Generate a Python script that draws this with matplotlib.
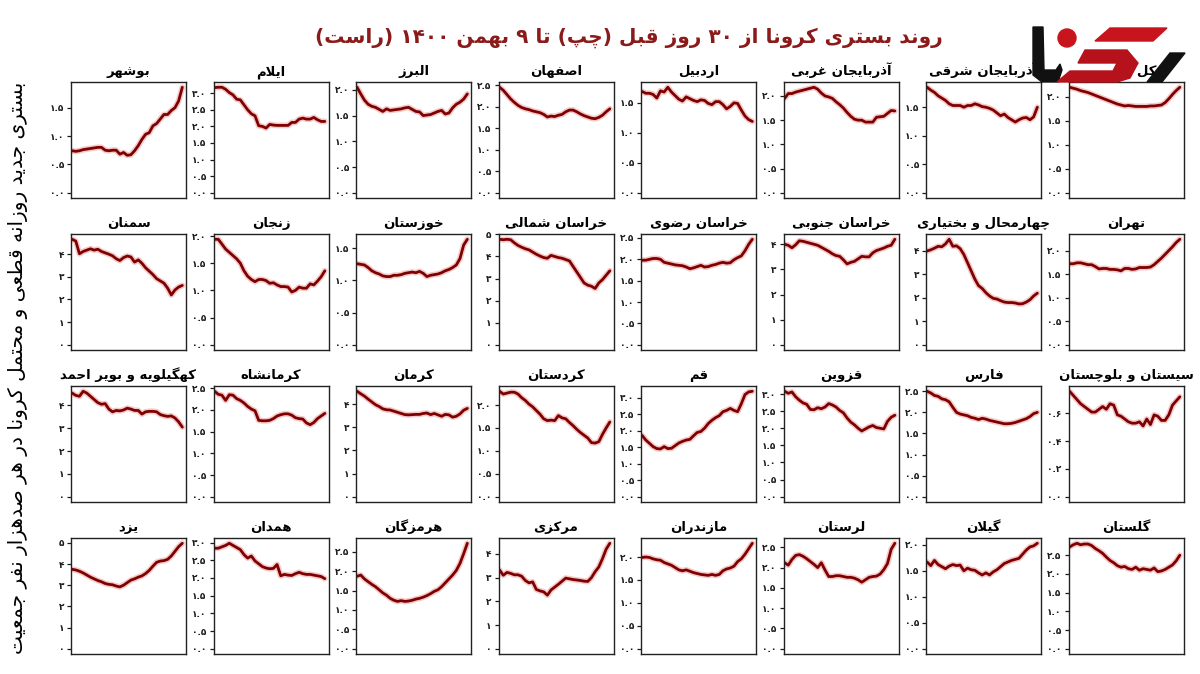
import re
import matplotlib
matplotlib.use('Agg')
import matplotlib.pyplot as plt
from matplotlib.patches import Polygon, Ellipse

plt.rcParams['font.family'] = ['DejaVu Sans']

# daily hospitalisations per 100k, 31 days (oldest -> newest)
bushehr = [0.74, 0.73, 0.74, 0.76, 0.77, 0.78, 0.79, 0.80, 0.80, 0.75, 0.74, 0.75, 0.75, 0.68, 0.71, 0.66,
           0.67, 0.74, 0.83, 0.94, 1.03, 1.06, 1.18, 1.22, 1.30, 1.38, 1.38, 1.45, 1.50, 1.62, 1.86]
ilam = [3.17, 3.18, 3.18, 3.12, 3.02, 2.95, 2.82, 2.80, 2.65, 2.50, 2.38, 2.32, 2.02, 2.00, 1.95, 2.06,
        2.04, 2.03, 2.03, 2.03, 2.03, 2.12, 2.12, 2.22, 2.25, 2.22, 2.22, 2.27, 2.20, 2.15, 2.15]
alborz = [2.05, 1.92, 1.80, 1.72, 1.68, 1.66, 1.62, 1.58, 1.63, 1.60, 1.61, 1.62, 1.63, 1.65, 1.66, 1.62,
          1.58, 1.57, 1.50, 1.51, 1.52, 1.55, 1.58, 1.60, 1.53, 1.55, 1.65, 1.72, 1.76, 1.82, 1.92]
isfahan = [2.45, 2.38, 2.28, 2.18, 2.10, 2.03, 1.98, 1.95, 1.93, 1.90, 1.88, 1.86, 1.82, 1.76, 1.78, 1.77,
           1.80, 1.82, 1.88, 1.92, 1.92, 1.88, 1.83, 1.79, 1.76, 1.73, 1.72, 1.75, 1.80, 1.88, 1.95]
ardabil = [1.69, 1.66, 1.66, 1.64, 1.58, 1.70, 1.68, 1.76, 1.68, 1.62, 1.56, 1.53, 1.60, 1.57, 1.54, 1.52,
           1.55, 1.54, 1.49, 1.47, 1.52, 1.52, 1.47, 1.40, 1.44, 1.50, 1.49, 1.38, 1.28, 1.22, 1.19]
azar_w = [1.95, 2.05, 2.05, 2.08, 2.10, 2.12, 2.14, 2.16, 2.18, 2.14, 2.06, 2.00, 1.98, 1.95, 1.88, 1.82,
          1.75, 1.66, 1.58, 1.52, 1.50, 1.50, 1.46, 1.46, 1.46, 1.56, 1.57, 1.58, 1.64, 1.70, 1.69]
azar_e = [1.85, 1.80, 1.76, 1.70, 1.66, 1.62, 1.56, 1.53, 1.53, 1.53, 1.50, 1.53, 1.53, 1.56, 1.54, 1.51,
          1.50, 1.48, 1.45, 1.40, 1.35, 1.38, 1.32, 1.28, 1.24, 1.28, 1.31, 1.32, 1.28, 1.33, 1.50]
country = [2.20, 2.18, 2.16, 2.13, 2.11, 2.09, 2.06, 2.03, 2.00, 1.97, 1.94, 1.91, 1.88, 1.85, 1.83, 1.81,
           1.82, 1.81, 1.80, 1.80, 1.80, 1.80, 1.81, 1.81, 1.82, 1.83, 1.88, 1.96, 2.05, 2.13, 2.20]

semnan = [4.66, 4.58, 4.02, 4.12, 4.18, 4.24, 4.18, 4.22, 4.12, 4.06, 4.00, 3.93, 3.80, 3.72, 3.85, 3.92,
          3.88, 3.65, 3.75, 3.60, 3.40, 3.25, 3.10, 2.92, 2.82, 2.72, 2.50, 2.20, 2.42, 2.55, 2.62]
zanjan = [1.94, 1.94, 1.85, 1.76, 1.70, 1.64, 1.58, 1.50, 1.36, 1.26, 1.20, 1.16, 1.20, 1.20, 1.18, 1.13,
          1.14, 1.10, 1.07, 1.07, 1.06, 0.97, 1.00, 1.06, 1.04, 1.04, 1.12, 1.10, 1.17, 1.25, 1.36]
khuzestan = [1.26, 1.25, 1.24, 1.20, 1.15, 1.12, 1.10, 1.07, 1.06, 1.06, 1.08, 1.08, 1.09, 1.11, 1.12, 1.13,
             1.12, 1.14, 1.11, 1.06, 1.08, 1.09, 1.10, 1.12, 1.15, 1.17, 1.20, 1.24, 1.34, 1.55, 1.64]
khorasan_n = [4.78, 4.76, 4.78, 4.76, 4.62, 4.50, 4.42, 4.35, 4.30, 4.20, 4.10, 4.02, 3.95, 3.92, 4.05, 4.00,
              3.95, 3.92, 3.86, 3.80, 3.55, 3.30, 3.05, 2.80, 2.70, 2.65, 2.55, 2.80, 2.95, 3.15, 3.35]
khorasan_r = [1.98, 1.98, 2.00, 2.02, 2.02, 2.00, 1.93, 1.91, 1.89, 1.87, 1.86, 1.85, 1.82, 1.78, 1.80, 1.83,
              1.86, 1.82, 1.83, 1.86, 1.88, 1.91, 1.93, 1.91, 1.92, 1.99, 2.04, 2.08, 2.20, 2.35, 2.47]
khorasan_s = [4.00, 3.96, 3.86, 3.98, 4.14, 4.12, 4.08, 4.04, 4.00, 3.96, 3.88, 3.80, 3.72, 3.62, 3.55, 3.52,
              3.38, 3.22, 3.28, 3.32, 3.42, 3.52, 3.50, 3.50, 3.66, 3.75, 3.80, 3.85, 3.92, 3.96, 4.20]
chaharmahal = [4.00, 4.05, 4.12, 4.20, 4.18, 4.30, 4.50, 4.20, 4.22, 4.10, 3.85, 3.50, 3.15, 2.80, 2.52, 2.40,
               2.22, 2.08, 1.98, 1.95, 1.88, 1.82, 1.80, 1.80, 1.78, 1.74, 1.75, 1.82, 1.92, 2.08, 2.20]
tehran = [1.72, 1.72, 1.74, 1.74, 1.72, 1.70, 1.70, 1.66, 1.61, 1.62, 1.62, 1.60, 1.60, 1.59, 1.57, 1.62,
          1.62, 1.60, 1.61, 1.64, 1.64, 1.64, 1.65, 1.70, 1.77, 1.84, 1.92, 2.00, 2.08, 2.17, 2.24]

kohgiluyeh = [4.54, 4.44, 4.40, 4.62, 4.54, 4.40, 4.26, 4.12, 4.05, 4.08, 3.84, 3.72, 3.78, 3.76, 3.80, 3.88,
              3.84, 3.78, 3.78, 3.62, 3.72, 3.74, 3.74, 3.72, 3.60, 3.55, 3.52, 3.54, 3.45, 3.28, 3.05]
kermanshah = [2.43, 2.36, 2.34, 2.22, 2.35, 2.34, 2.26, 2.22, 2.16, 2.08, 2.02, 1.98, 1.76, 1.75, 1.75, 1.76,
              1.80, 1.86, 1.89, 1.91, 1.91, 1.88, 1.82, 1.80, 1.79, 1.70, 1.66, 1.71, 1.80, 1.86, 1.92]
kerman = [4.56, 4.45, 4.35, 4.22, 4.10, 3.98, 3.90, 3.80, 3.76, 3.75, 3.70, 3.65, 3.60, 3.55, 3.54, 3.55,
          3.56, 3.56, 3.60, 3.62, 3.55, 3.60, 3.54, 3.48, 3.56, 3.54, 3.44, 3.48, 3.58, 3.74, 3.82]
kordestan = [2.30, 2.24, 2.26, 2.28, 2.28, 2.24, 2.16, 2.10, 2.02, 1.96, 1.88, 1.80, 1.70, 1.66, 1.67, 1.66,
             1.77, 1.72, 1.70, 1.62, 1.55, 1.47, 1.40, 1.34, 1.28, 1.18, 1.17, 1.20, 1.36, 1.50, 1.63]
qom = [1.86, 1.72, 1.62, 1.52, 1.46, 1.45, 1.52, 1.46, 1.47, 1.55, 1.63, 1.68, 1.72, 1.74, 1.85, 1.95,
       1.98, 2.08, 2.22, 2.32, 2.40, 2.46, 2.58, 2.62, 2.68, 2.62, 2.58, 2.82, 3.10, 3.18, 3.20]
qazvin = [3.08, 3.02, 3.06, 2.92, 2.82, 2.74, 2.70, 2.55, 2.54, 2.60, 2.57, 2.62, 2.72, 2.68, 2.62, 2.52,
          2.45, 2.30, 2.18, 2.10, 2.00, 1.92, 1.98, 2.04, 2.08, 2.02, 2.00, 1.98, 2.20, 2.32, 2.38]
fars = [2.50, 2.46, 2.40, 2.38, 2.32, 2.30, 2.25, 2.12, 2.00, 1.96, 1.94, 1.92, 1.88, 1.86, 1.83, 1.86,
        1.84, 1.81, 1.79, 1.77, 1.75, 1.73, 1.73, 1.74, 1.76, 1.79, 1.82, 1.85, 1.90, 1.97, 2.00]
sistan = [0.76, 0.73, 0.70, 0.67, 0.65, 0.63, 0.61, 0.61, 0.63, 0.65, 0.63, 0.67, 0.66, 0.59, 0.58, 0.56,
          0.54, 0.53, 0.53, 0.54, 0.51, 0.56, 0.52, 0.59, 0.58, 0.55, 0.55, 0.59, 0.66, 0.69, 0.72]

yazd = [3.75, 3.72, 3.66, 3.58, 3.48, 3.38, 3.30, 3.22, 3.16, 3.08, 3.04, 3.02, 2.96, 2.92, 3.00, 3.12,
        3.24, 3.30, 3.38, 3.44, 3.55, 3.70, 3.90, 4.08, 4.14, 4.16, 4.22, 4.38, 4.60, 4.82, 4.98]
hamedan = [2.84, 2.84, 2.88, 2.92, 2.98, 2.92, 2.86, 2.80, 2.66, 2.56, 2.62, 2.48, 2.40, 2.32, 2.28, 2.26,
           2.27, 2.38, 2.06, 2.10, 2.08, 2.07, 2.12, 2.16, 2.12, 2.10, 2.10, 2.08, 2.06, 2.04, 1.98]
hormozgan = [1.87, 1.90, 1.80, 1.73, 1.66, 1.60, 1.52, 1.44, 1.38, 1.30, 1.25, 1.22, 1.24, 1.22, 1.23, 1.25,
             1.28, 1.30, 1.33, 1.37, 1.42, 1.48, 1.52, 1.60, 1.70, 1.80, 1.90, 2.02, 2.20, 2.45, 2.72]
markazi = [3.32, 3.10, 3.22, 3.18, 3.12, 3.12, 3.06, 2.88, 2.78, 2.82, 2.50, 2.44, 2.40, 2.26, 2.48, 2.60,
           2.72, 2.85, 2.98, 2.95, 2.92, 2.90, 2.88, 2.85, 2.84, 3.00, 3.25, 3.45, 3.80, 4.20, 4.45]
mazandaran = [1.99, 2.00, 1.99, 1.96, 1.94, 1.93, 1.88, 1.85, 1.82, 1.77, 1.72, 1.70, 1.72, 1.69, 1.66, 1.64,
              1.62, 1.61, 1.60, 1.62, 1.60, 1.62, 1.70, 1.74, 1.76, 1.80, 1.90, 1.96, 2.06, 2.18, 2.30]
lorestan = [2.12, 2.06, 2.20, 2.30, 2.32, 2.28, 2.22, 2.15, 2.08, 2.00, 2.12, 1.94, 1.78, 1.78, 1.80, 1.80,
            1.78, 1.76, 1.76, 1.74, 1.70, 1.64, 1.70, 1.76, 1.78, 1.79, 1.84, 1.95, 2.10, 2.45, 2.60]
gilan = [1.67, 1.60, 1.70, 1.62, 1.58, 1.54, 1.59, 1.62, 1.60, 1.61, 1.50, 1.55, 1.52, 1.51, 1.46, 1.42,
         1.46, 1.42, 1.48, 1.52, 1.58, 1.64, 1.67, 1.70, 1.72, 1.74, 1.82, 1.90, 1.96, 1.98, 2.03]
golestan = [2.72, 2.78, 2.82, 2.78, 2.80, 2.80, 2.76, 2.68, 2.62, 2.55, 2.45, 2.36, 2.30, 2.22, 2.18, 2.20,
            2.14, 2.12, 2.18, 2.10, 2.14, 2.12, 2.10, 2.16, 2.06, 2.08, 2.12, 2.18, 2.24, 2.35, 2.50]

# panel titles in screen order (left -> right, top -> bottom)
names = [
    'بوشهر', 'ایلام', 'البرز', 'اصفهان', 'اردبیل', 'آذربایجان غربی', 'آذربایجان شرقی', 'کل کشور',
    'سمنان', 'زنجان', 'خوزستان', 'خراسان شمالی', 'خراسان رضوی', 'خراسان جنوبی', 'چهارمحال و بختیاری', 'تهران',
    'کهگیلویه و بویر احمد', 'کرمانشاه', 'کرمان', 'کردستان', 'قم', 'قزوین', 'فارس', 'سیستان و بلوچستان',
    'یزد', 'همدان', 'هرمزگان', 'مرکزی', 'مازندران', 'لرستان', 'گیلان', 'گلستان',
]
series = [
    bushehr, ilam, alborz, isfahan, ardabil, azar_w, azar_e, country,
    semnan, zanjan, khuzestan, khorasan_n, khorasan_r, khorasan_s, chaharmahal, tehran,
    kohgiluyeh, kermanshah, kerman, kordestan, qom, qazvin, fars, sistan,
    yazd, hamedan, hormozgan, markazi, mazandaran, lorestan, gilan, golestan,
]

title_text = 'روند بستری کرونا از ۳۰ روز قبل (چپ) تا ۹ بهمن ۱۴۰۰ (راست)'
ylabel_text = 'بستری جدید روزانه قطعی و محتمل کرونا در هر صدهزار نفر جمعیت'

# --- tiny Persian shaper: matplotlib has no bidi / joining support ---
FORMS = {
    '\u0622': (0xFE81, 0xFE82), '\u0627': (0xFE8D, 0xFE8E),
    '\u0628': (0xFE8F, 0xFE90, 0xFE91, 0xFE92), '\u067E': (0xFB56, 0xFB57, 0xFB58, 0xFB59),
    '\u062A': (0xFE95, 0xFE96, 0xFE97, 0xFE98), '\u062B': (0xFE99, 0xFE9A, 0xFE9B, 0xFE9C),
    '\u062C': (0xFE9D, 0xFE9E, 0xFE9F, 0xFEA0), '\u0686': (0xFB7A, 0xFB7B, 0xFB7C, 0xFB7D),
    '\u062D': (0xFEA1, 0xFEA2, 0xFEA3, 0xFEA4), '\u062E': (0xFEA5, 0xFEA6, 0xFEA7, 0xFEA8),
    '\u062F': (0xFEA9, 0xFEAA), '\u0630': (0xFEAB, 0xFEAC), '\u0631': (0xFEAD, 0xFEAE),
    '\u0632': (0xFEAF, 0xFEB0), '\u0698': (0xFB8A, 0xFB8B),
    '\u0633': (0xFEB1, 0xFEB2, 0xFEB3, 0xFEB4), '\u0634': (0xFEB5, 0xFEB6, 0xFEB7, 0xFEB8),
    '\u0635': (0xFEB9, 0xFEBA, 0xFEBB, 0xFEBC), '\u0636': (0xFEBD, 0xFEBE, 0xFEBF, 0xFEC0),
    '\u0637': (0xFEC1, 0xFEC2, 0xFEC3, 0xFEC4), '\u0638': (0xFEC5, 0xFEC6, 0xFEC7, 0xFEC8),
    '\u0639': (0xFEC9, 0xFECA, 0xFECB, 0xFECC), '\u063A': (0xFECD, 0xFECE, 0xFECF, 0xFED0),
    '\u0641': (0xFED1, 0xFED2, 0xFED3, 0xFED4), '\u0642': (0xFED5, 0xFED6, 0xFED7, 0xFED8),
    '\u06A9': (0xFB8E, 0xFB8F, 0xFB90, 0xFB91), '\u06AF': (0xFB92, 0xFB93, 0xFB94, 0xFB95),
    '\u0644': (0xFEDD, 0xFEDE, 0xFEDF, 0xFEE0), '\u0645': (0xFEE1, 0xFEE2, 0xFEE3, 0xFEE4),
    '\u0646': (0xFEE5, 0xFEE6, 0xFEE7, 0xFEE8), '\u0648': (0xFEED, 0xFEEE),
    '\u0647': (0xFEE9, 0xFEEA, 0xFEEB, 0xFEEC), '\u06CC': (0xFBFC, 0xFBFD, 0xFBFE, 0xFBFF),
}


def fa(text):
    text = text.replace('\u064A', '\u06CC').replace('\u0643', '\u06A9')
    ch = list(text)
    out = []
    i = 0
    while i < len(ch):
        c = ch[i]
        prev = ch[i - 1] if i > 0 else ''
        pj = prev in FORMS and len(FORMS[prev]) == 4
        if c == '\u0644' and i + 1 < len(ch) and ch[i + 1] in ('\u0627', '\u0622'):
            lig = (0xFEFB, 0xFEFC) if ch[i + 1] == '\u0627' else (0xFEF5, 0xFEF6)
            out.append(chr(lig[1] if pj else lig[0]))
            i += 2
            continue
        if c in FORMS:
            f = FORMS[c]
            nxt = ch[i + 1] if i + 1 < len(ch) else ''
            nj = nxt in FORMS and len(f) == 4
            if pj and nj:
                g = f[3]
            elif pj:
                g = f[1]
            elif nj:
                g = f[2]
            else:
                g = f[0]
            out.append(chr(g))
        elif c != '\u200c':
            out.append(c)
        i += 1
    vis = ''.join(out)[::-1].translate(str.maketrans('()', ')('))
    return re.sub(r'[0-9\u06F0-\u06F9.]+', lambda m: m.group(0)[::-1], vis)


DIG = str.maketrans('0123456789', '۰۱۲۳۴۵۶۷۸۹')

W, H = 1200, 674
fig = plt.figure(figsize=(W / 100, H / 100), dpi=100)

line_col = '#7f0000'
for k, (name, vals) in enumerate(zip(names, series)):
    r, c = divmod(k, 8)
    left, top, w, h = 71 + 142.5 * c, 82 + 152 * r, 115, 116
    ax = fig.add_axes([left / W, 1 - (top + h) / H, w / W, h / H])
    days = list(range(len(vals)))
    ax.plot(days, vals, color='#d42a2a', lw=4.2, alpha=0.25, solid_capstyle='round')
    ax.plot(days, vals, color=line_col, lw=2.0, solid_capstyle='round')

    top_v = max(vals)
    ax.set_ylim(-0.05 * top_v, 1.05 * top_v)
    ax.set_xlim(-0.3, len(vals))
    step = 0.2 if top_v < 1 else (0.5 if top_v < 3.6 else 1.0)
    ticks = []
    t = 0.0
    while t <= 1.05 * top_v:
        ticks.append(t)
        t = round(t + step, 2)
    ax.set_yticks(ticks)
    ax.set_yticklabels([(f'{v:.0f}' if step >= 1 else f'{v:.1f}').translate(DIG) for v in ticks],
                       fontweight='bold')
    ax.set_xticks([])
    ax.tick_params(axis='y', length=3, width=0.9, labelsize=6.5, pad=2, colors='#1a1a1a')
    for s in ax.spines.values():
        s.set_linewidth(1.0)
        s.set_color('#222222')
    ax.set_title(fa(name), fontsize=9.5, fontweight='bold', pad=5)

fig.text(629 / W, 1 - 38 / H, fa(title_text), color='#8b1a1a', fontsize=14.5, fontweight='bold',
         ha='center', va='center')
fig.text(18 / W, 1 - 368 / H, fa(ylabel_text), rotation=90, fontsize=14.5,
         ha='center', va='center')


# site watermark in the top right corner
def px(pts):
    return [(x / W, 1 - y / H) for x, y in pts]


logo = [
    Polygon(px([(1033, 27), (1043, 27), (1044, 70), (1056, 70), (1060, 64), (1062, 70), (1058, 82),
                (1042, 82), (1033, 75)]), closed=True, color='#111111'),
    Polygon(px([(1110, 28), (1167, 28), (1153, 41), (1095, 41)]), closed=True, color='#c8141c'),
    Polygon(px([(1085, 50), (1127, 50), (1138, 63), (1130, 78), (1117, 82), (1057, 82), (1070, 71),
                (1113, 71), (1117, 63), (1078, 63)]), closed=True, color='#b5121b'),
    Polygon(px([(1170, 53), (1185, 53), (1162, 82), (1147, 82)]), closed=True, color='#111111'),
    Ellipse((1067 / W, 1 - 38 / H), 18 / W, 18 / H, color='#c8141c'),
]
for p in logo:
    p.set_transform(fig.transFigure)
    p.set_zorder(5)
    fig.patches.append(p)

fig.savefig('out.png', dpi=100, facecolor='white')
